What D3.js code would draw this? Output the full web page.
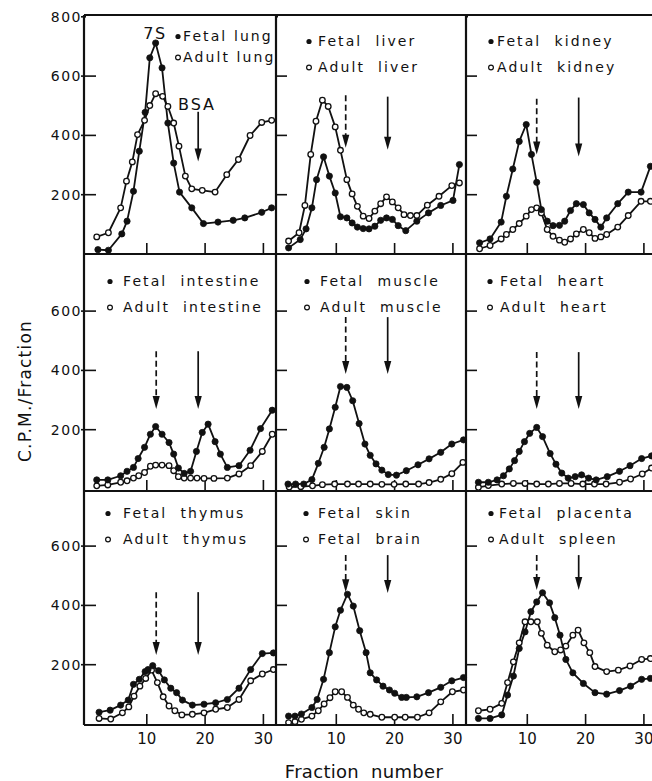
<!DOCTYPE html>
<html><head><meta charset="utf-8">
<script src="https://cdn.jsdelivr.net/npm/d3@7"></script>
<style>body{margin:0;background:#fff}svg{display:block}</style>
</head><body>
<script>
// ---------- DATA (fraction number, C.P.M./fraction) ----------
const fetalLung = [[1.7,13],[3.5,11],[5.8,66],[6.7,109],[7.8,210],[8.8,345],[9.8,476],[10.6,660],[11.6,710],[12.7,626],[13.7,440],[14.7,305],[15.7,207],[17.8,154],[19.8,101],[22.3,106],[24.9,112],[26.9,120],[29.8,139],[31.5,154]];
const adultLung = [[1.5,56],[3.5,70],[5.6,154],[6.6,244],[7.6,309],[8.5,401],[9.7,449],[10.6,499],[11.6,539],[12.8,530],[13.7,496],[14.7,440],[15.6,362],[16.7,261],[17.8,218],[19.6,213],[21.8,207],[23.8,266],[25.8,317],[27.8,398],[29.8,442],[31.5,449]];
const fetalLiver = [[1.9,19],[3.9,47],[4.9,83],[5.9,154],[6.7,249],[7.9,326],[8.9,261],[9.9,204],[10.8,124],[11.9,120],[12.8,103],[13.7,89],[14.7,84],[15.7,83],[16.7,92],[17.7,112],[18.7,120],[19.7,115],[20.7,94],[22.0,77],[23.9,109],[25.9,137],[28.0,162],[30.1,179],[31.2,300]];
const adultLiver = [[1.9,42],[3.7,70],[4.7,162],[5.7,334],[6.6,446],[7.7,517],[8.7,496],[9.9,427],[10.8,348],[11.9,249],[12.8,201],[13.7,159],[14.7,126],[15.7,118],[16.7,143],[17.7,168],[18.7,191],[19.7,174],[20.7,154],[21.7,131],[22.8,128],[23.9,128],[25.7,163],[27.7,193],[29.9,229],[31.2,238]];
const fetalKidney = [[1.9,36],[3.7,49],[5.6,106],[6.5,193],[7.6,285],[8.7,378],[9.9,435],[10.8,334],[11.7,240],[12.5,148],[13.5,109],[14.5,94],[15.6,95],[16.5,109],[17.5,145],[18.5,168],[19.7,165],[20.7,137],[21.7,115],[22.7,89],[23.7,120],[25.6,168],[27.4,207],[29.6,207],[31.2,294]];
const adultKidney = [[1.9,16],[3.7,27],[5.6,49],[6.5,64],[7.6,81],[8.7,101],[9.9,126],[10.8,148],[11.7,154],[12.5,137],[13.5,81],[14.5,58],[15.6,45],[16.5,38],[17.5,49],[18.5,66],[19.7,81],[20.7,70],[21.7,51],[22.7,56],[23.7,64],[25.6,89],[27.4,128],[29.6,176],[31.2,176]];
const fetalIntestine = [[1.5,29],[3.4,29],[5.6,43],[6.7,58],[7.8,71],[8.6,101],[9.7,139],[10.7,183],[11.6,209],[12.7,183],[13.9,155],[14.7,116],[15.5,69],[16.5,51],[17.6,58],[18.6,125],[19.6,189],[20.6,217],[21.8,158],[22.7,116],[23.9,71],[25.9,77],[27.8,129],[29.6,202],[31.6,264]];
const adultIntestine = [[1.5,9],[3.4,12],[5.6,21],[6.7,26],[7.8,35],[8.7,43],[9.7,54],[10.7,75],[11.6,79],[12.7,79],[13.9,77],[14.7,60],[15.5,40],[16.5,35],[17.6,35],[18.7,35],[19.9,34],[21.6,34],[23.9,35],[25.9,49],[27.9,77],[29.9,125],[31.6,183]];
const fetalMuscle = [[1.8,15],[3.1,15],[4.5,15],[5.9,30],[7.0,85],[8.0,139],[8.9,201],[9.9,274],[10.8,344],[11.9,341],[12.9,296],[14.0,219],[15.0,150],[15.9,112],[16.9,83],[17.9,62],[19.0,47],[20.4,45],[22.1,60],[24.1,80],[26.0,100],[28.0,122],[29.9,150],[31.9,164]];
const adultMuscle = [[2,5],[4,6],[6,9],[7.7,13],[9.8,15],[12,15],[13.9,15],[15.9,15],[17.9,14],[20,14],[22,15],[24.2,15],[26,20],[28,31],[29.9,50],[31.8,88]];
const fetalHeart = [[1.7,21],[3.4,21],[4.9,29],[6.0,43],[7.0,66],[7.9,94],[8.7,125],[9.6,158],[10.5,186],[11.7,206],[12.7,175],[14.0,118],[15.0,82],[16.0,52],[17.1,35],[18.3,40],[19.4,46],[20.6,35],[21.9,29],[23.8,40],[25.9,58],[27.7,77],[29.7,101],[31.4,110]];
const adultHeart = [[1.7,4],[3.4,10],[5.7,15],[7.7,17],[9.7,17],[11.7,15],[13.7,15],[15.6,17],[17.6,17],[19.6,15],[21.6,15],[23.6,15],[25.9,21],[27.8,32],[29.8,49],[31.4,69]];
const fetalThymus = [[1.9,38],[3.8,45],[5.6,62],[6.9,79],[7.8,132],[8.8,149],[9.8,175],[10.3,182],[11.1,195],[12.1,178],[13.1,147],[14.2,119],[15.2,104],[16.2,79],[17.9,62],[19.9,65],[21.9,70],[23.9,81],[25.9,119],[27.9,182],[29.9,236],[31.8,238]];
const adultThymus = [[1.9,17],[3.9,15],[5.9,36],[7.0,56],[7.9,92],[8.9,126],[9.9,152],[10.9,180],[11.9,138],[12.9,90],[13.9,59],[14.9,43],[16.1,29],[17.9,31],[19.9,36],[21.9,48],[23.9,54],[25.9,81],[27.9,144],[29.9,167],[31.8,182]];
const fetalSkin = [[1.9,25],[3.0,25],[4.1,32],[5.9,54],[6.8,81],[7.9,149],[8.9,239],[9.9,326],[10.8,382],[12.0,436],[13.0,396],[14.1,313],[15.2,239],[15.9,171],[17.0,147],[18.1,126],[19.2,113],[20.1,102],[21.3,88],[22.1,88],[23.9,90],[25.9,104],[28.0,122],[29.9,144],[31.9,155]];
const fetalBrain = [[1.9,3],[3.0,6],[4.1,14],[5.9,25],[7.0,43],[8.0,66],[9.0,87],[9.9,107],[11.0,107],[12.0,88],[13.0,62],[13.9,48],[14.8,36],[15.9,31],[17.9,21],[20.1,21],[21.9,21],[24.0,21],[26.0,36],[28.0,73],[30.0,107],[31.9,113]];
const fetalPlacenta = [[1.7,17],[3.7,17],[5.7,29],[6.7,96],[7.7,160],[8.7,253],[9.7,309],[10.7,377],[11.7,410],[12.7,441],[13.9,407],[14.8,357],[15.7,298],[16.7,216],[17.9,171],[19.7,135],[21.7,104],[23.7,99],[25.9,111],[27.8,126],[29.7,149],[31.2,152]];
const adultSpleen = [[1.7,43],[3.7,48],[5.7,68],[6.7,138],[7.7,208],[8.7,272],[9.7,343],[10.7,343],[11.8,343],[12.5,304],[13.5,264],[14.8,242],[15.8,248],[16.7,261],[17.9,298],[18.8,315],[19.8,272],[20.8,239],[21.7,192],[23.7,175],[25.7,180],[27.7,194],[29.7,216],[31.2,219]];

const filledLabels = ["Fetal lung","Fetal  liver","Fetal  kidney","Fetal  intestine","Fetal  muscle","Fetal  heart","Fetal  thymus","Fetal  skin","Fetal  placenta"];
const openLabels   = ["Adult lung","Adult  liver","Adult  kidney","Adult  intestine","Adult  muscle","Adult  heart","Adult  thymus","Fetal  brain","Adult  spleen"];
const filledSeries = [fetalLung,fetalLiver,fetalKidney,fetalIntestine,fetalMuscle,fetalHeart,fetalThymus,fetalSkin,fetalPlacenta];
const openSeries   = [adultLung,adultLiver,adultKidney,adultIntestine,adultMuscle,adultHeart,adultThymus,fetalBrain,adultSpleen];

const xTicks = [10,20,30];
const yTicksTopRow = [200,400,600,800];
const yTicksOtherRows = [200,400,600];
const marker7S = 11.7, markerBSA = 18.9;       // fraction positions of 7S and BSA markers
const dashedSpan = [null,[534,357],[522,334],[463,268],[578,386],[460,268],[443,231],[568,443],[568,450]];
const solidSpan  = [[478,310],[529,350],[526,327],[463,268],[578,386],[460,268],[443,231],[568,440],[568,450]];

// ---------- LAYOUT ----------
const W=652,H=781;
const FONT="'DejaVu Sans', Verdana, sans-serif";
const colLeft=[84,276,466], colRight=[276,466,700];
const rowTop=[15,254,491], rowBottom=[254,491,725];
const xZero=[88,277.5,468.5], pxPerFraction=5.83;
const zeroOffset=[0.5,2.5,1.5], pxPerCpm=0.2965;
const legendPos=[[94,99,26,47],[33,42,31,57],[25,31,31,57],[26,39,32,58],[31,44,32,58],[24,34,32,58],[24,39,27,53],[30,42,27,53],[25,33,27,53]];

const svg=d3.select("body").append("svg").attr("width",W).attr("height",H)
  .style("font-family",FONT);

const line=(x,y)=>d3.line().x(d=>x(d[0])).y(d=>y(d[1]));

for(let i=0;i<9;i++){
  const r=Math.floor(i/3), c=i%3;
  const x=d3.scaleLinear().domain([0,10]).range([xZero[c], xZero[c]+10*pxPerFraction]);
  const y0=rowBottom[r]-zeroOffset[r];
  const y=d3.scaleLinear().domain([0,800]).range([y0, y0-800*pxPerCpm]);
  const g=svg.append("g");

  // y ticks (inward) + labels on left column
  const ya=d3.axisLeft(y).tickValues(r===0?yTicksTopRow:yTicksOtherRows).tickSize(-11).tickPadding(c===0?2:0);
  if(c!==0) ya.tickFormat("");
  const yg=g.append("g").attr("transform",`translate(${colLeft[c]},0)`).call(ya);
  yg.select(".domain").remove();
  yg.selectAll(".tick line").attr("stroke","#111").attr("stroke-width",1.6)
    .attr("x1",c===0?-3:0).attr("x2",c===0?12:11);
  yg.selectAll(".tick").filter(d=>d===800).select("line").attr("x2",2);
  yg.selectAll("text").attr("font-size",14).attr("letter-spacing",1.5).attr("fill","#111")
    .attr("font-family",FONT).attr("dy","0.36em");

  // x ticks (inward) + labels on bottom row
  const xa=d3.axisBottom(x).tickValues(xTicks).tickSize(-11).tickPadding(8);
  if(r!==2) xa.tickFormat("");
  const xg=g.append("g").attr("transform",`translate(0,${rowBottom[r]})`).call(xa);
  xg.select(".domain").remove();
  xg.selectAll(".tick line").attr("stroke","#111").attr("stroke-width",1.6);
  xg.selectAll("text").attr("font-size",15).attr("fill","#111").attr("font-family",FONT);

  // series
  const series=[{d:openSeries[i],filled:false},{d:filledSeries[i],filled:true}];
  series.forEach(s=>{
    g.append("path").datum(s.d).attr("d",line(x,y)).attr("fill","none")
      .attr("stroke","#111").attr("stroke-width",1.8).attr("stroke-linejoin","round");
  });
  series.forEach(s=>{
    g.selectAll(null).data(s.d).join("circle")
      .attr("cx",d=>x(d[0])).attr("cy",d=>y(d[1])).attr("r",s.filled?3.1:2.8)
      .attr("fill",s.filled?"#111":"#fff").attr("stroke","#111").attr("stroke-width",s.filled?0.8:1.3);
  });

  // arrows
  const drawArrow=(fx,span,dashed)=>{
    if(!span) return;
    const ax=x(fx), yt=y(span[0]), yb=y(span[1]);
    g.append("line").attr("x1",ax).attr("x2",ax).attr("y1",yt).attr("y2",yb-10)
      .attr("stroke","#111").attr("stroke-width",1.7).attr("stroke-dasharray",dashed?"6,3.5":null);
    g.append("path").attr("d",`M${ax-3.6},${yb-13}L${ax+3.6},${yb-13}L${ax},${yb}Z`).attr("fill","#111");
  };
  drawArrow(marker7S,dashedSpan[i],true);
  drawArrow(markerBSA,solidSpan[i],false);

  // legend
  const [mx,tx,b1,b2]=legendPos[i];
  const L=colLeft[c], T=rowTop[r];
  g.append("circle").attr("cx",L+mx).attr("cy",T+b1-4.5).attr("r",2.6).attr("fill","#111");
  g.append("circle").attr("cx",L+mx).attr("cy",T+b2-4.5).attr("r",2.4).attr("fill","#fff").attr("stroke","#111").attr("stroke-width",1.2);
  [[filledLabels[i],b1],[openLabels[i],b2]].forEach(([t,b])=>{
    g.append("text").attr("x",L+tx).attr("y",T+b).text(t).attr("font-size",14)
      .attr("letter-spacing",2.1).attr("fill","#111").style("white-space","pre");
  });

  if(i===0){
    g.append("text").attr("x",x(11.5)).attr("y",y(725)).attr("text-anchor","middle")
      .attr("font-size",16).attr("letter-spacing",1.5).attr("fill","#111").text("7S");
    g.append("text").attr("x",x(18.7)).attr("y",y(485)).attr("text-anchor","middle")
      .attr("font-size",16).attr("letter-spacing",2).attr("fill","#111").text("BSA");
  }
}

// frames
const frame=svg.append("g").attr("stroke","#111").attr("stroke-width",2.2).attr("fill","none");
[rowTop[0],rowBottom[0],rowBottom[1],rowBottom[2]].forEach(yy=>
  frame.append("line").attr("x1",colLeft[0]).attr("x2",W).attr("y1",yy).attr("y2",yy));
colLeft.forEach(xx=>frame.append("line").attr("x1",xx).attr("x2",xx).attr("y1",rowTop[0]).attr("y2",rowBottom[2]));

// axis titles
svg.append("text").attr("transform","translate(31,391) rotate(-90)").attr("text-anchor","middle")
  .attr("font-size",17).attr("letter-spacing",1.2).attr("fill","#111").text("C.P.M./Fraction");
svg.append("text").attr("x",364).attr("y",778).attr("text-anchor","middle")
  .attr("font-size",18).attr("letter-spacing",0.3).attr("fill","#111").style("white-space","pre").text("Fraction  number");
</script>
</body></html>
